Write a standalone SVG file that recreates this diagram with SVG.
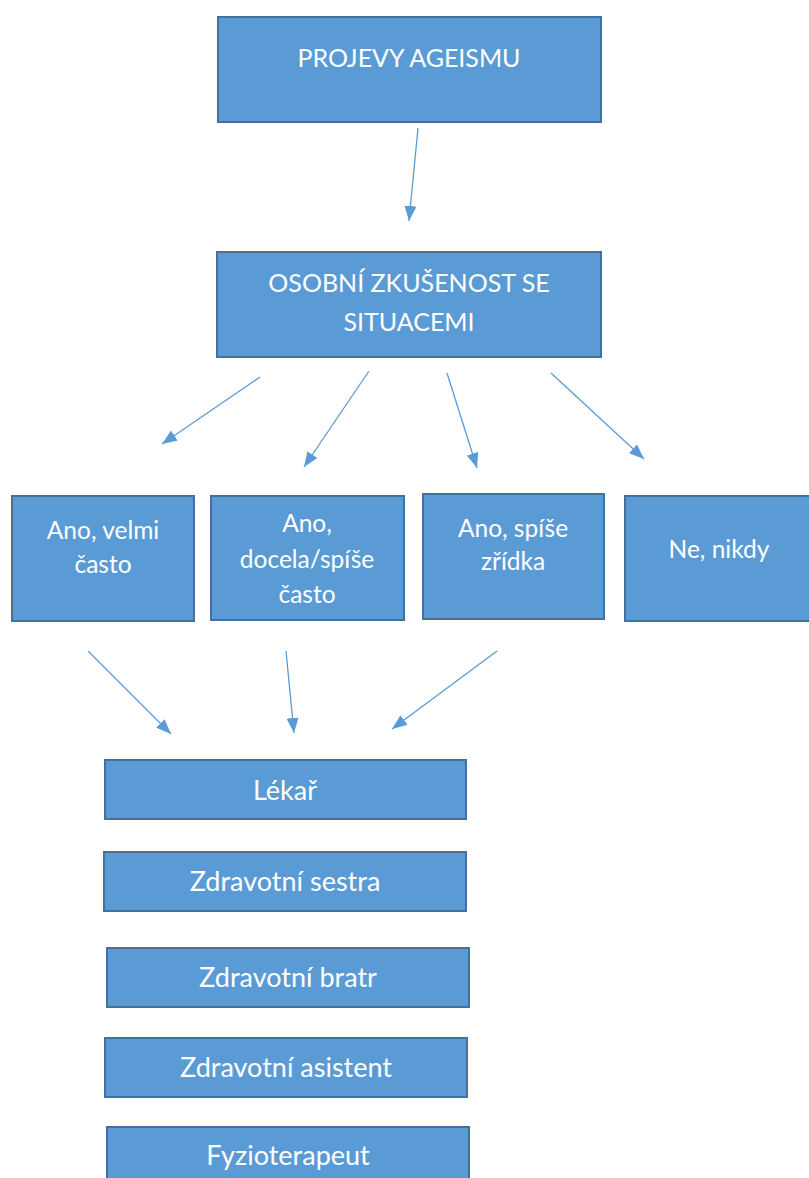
<svg xmlns="http://www.w3.org/2000/svg" width="809" height="1178" viewBox="0 0 809 1178">
<style>
.box{fill:#5B9BD5;stroke:#41719C;stroke-width:2}
.t{font-family:Lato,"Liberation Sans",sans-serif;fill:#fff;text-anchor:middle}
.big{font-size:25px}
.mid{font-size:24.5px}
.low{font-size:27px}
.c{stroke:#5B9BD5;stroke-width:1.3;fill:none;marker-end:url(#ah)}
</style>
<defs>
<marker id="ah" markerUnits="userSpaceOnUse" markerWidth="16" markerHeight="12" refX="15" refY="6" orient="auto">
<path d="M0,0 L15,6 L0,12 z" fill="#5B9BD5"/>
</marker>
</defs>
<rect width="809" height="1178" fill="#fff"/>
<g id="n-projevy"><rect class="box" x="218" y="17" width="383" height="105"/><text class="t big" x="409" y="67">PROJEVY AGEISMU</text></g>
<g id="n-osobni"><rect class="box" x="217" y="252" width="384" height="105"/><text class="t big" x="409" y="292">OSOBNÍ ZKUŠENOST SE</text><text class="t big" x="409" y="331">SITUACEMI</text></g>
<g id="n-velmi"><rect class="box" x="12" y="496" width="182" height="125"/><text class="t mid" x="103" y="539">Ano, velmi</text><text class="t mid" x="103" y="573">často</text></g>
<g id="n-docela"><rect class="box" x="211" y="496" width="193" height="124"/><text class="t mid" x="307" y="532">Ano,</text><text class="t mid" x="307" y="568">docela/spíše</text><text class="t mid" x="307" y="603">často</text></g>
<g id="n-zridka"><rect class="box" x="423" y="494" width="181" height="125"/><text class="t mid" x="513" y="537">Ano, spíše</text><text class="t mid" x="513" y="570">zřídka</text></g>
<g id="n-nikdy"><rect class="box" x="625" y="496" width="190" height="125"/><text class="t mid" x="719" y="558">Ne, nikdy</text></g>
<g id="n-lekar"><rect class="box" x="105" y="760" width="361" height="59"/><text class="t low" x="285" y="800">Lékař</text></g>
<g id="n-sestra"><rect class="box" x="104" y="852" width="362" height="59"/><text class="t low" x="285" y="891">Zdravotní sestra</text></g>
<g id="n-bratr"><rect class="box" x="107" y="948" width="362" height="59"/><text class="t low" x="288" y="987">Zdravotní bratr</text></g>
<g id="n-asistent"><rect class="box" x="105" y="1038" width="362" height="59"/><text class="t low" x="286" y="1077">Zdravotní asistent</text></g>
<g id="n-fyzio"><rect class="box" x="107" y="1127" width="362" height="60"/><text class="t low" x="288" y="1165">Fyzioterapeut</text></g>
<g id="connectors">
<line class="c" x1="418" y1="128" x2="409" y2="221"/>
<line class="c" x1="260" y1="377" x2="162" y2="444"/>
<line class="c" x1="369" y1="371" x2="304" y2="467"/>
<line class="c" x1="447" y1="373" x2="477" y2="468"/>
<line class="c" x1="551" y1="373" x2="644" y2="459"/>
<line class="c" x1="88" y1="651" x2="171" y2="734"/>
<line class="c" x1="286" y1="651" x2="294" y2="733"/>
<line class="c" x1="497" y1="651" x2="392" y2="729"/>
</g>
</svg>
